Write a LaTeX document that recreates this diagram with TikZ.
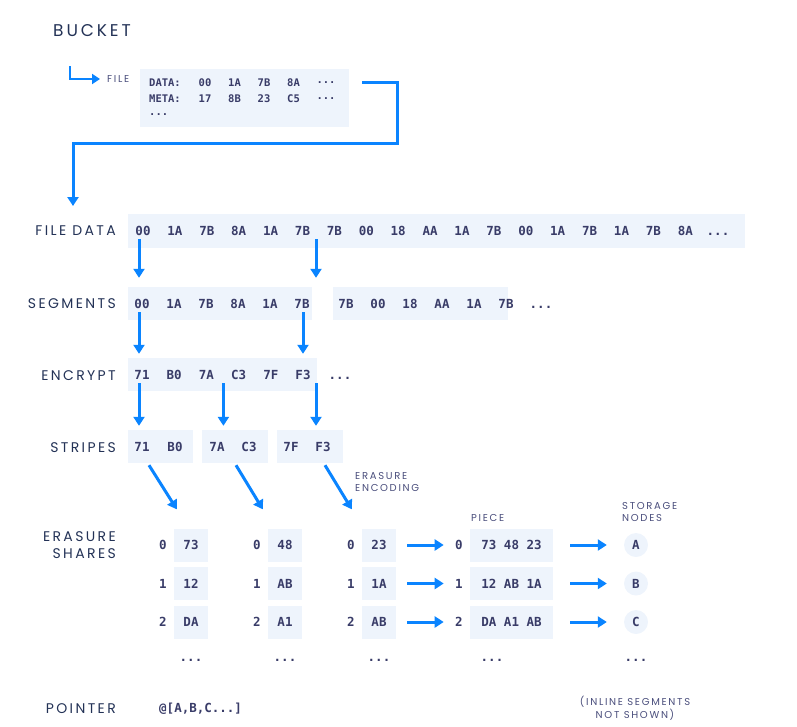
\documentclass[tikz,border=0pt]{standalone}
\usepackage{fontspec}
\setmainfont{Poppins}
\newfontfamily\capsfont[LetterSpace=17]{Poppins}
\newfontfamily\hexfont{DejaVu Sans Mono}
\usetikzlibrary{arrows.meta}
\definecolor{ink}{HTML}{233256}
\definecolor{softink}{HTML}{4A4E7C}
\definecolor{hexink}{HTML}{393C68}
\definecolor{boxfill}{HTML}{EEF4FC}
\definecolor{flowblue}{HTML}{0A84FF}
\tikzset{
  lbl/.style={font=\capsfont\fontsize{14}{16.5}\selectfont, text=ink, anchor=east, align=right, inner sep=0pt},
  tiny/.style={font=\capsfont\fontsize{10}{12.5}\selectfont, text=softink, align=left, inner sep=0pt},
  hex/.style={font=\hexfont\bfseries\fontsize{12.5}{14}\selectfont, text=hexink, text height=9pt, text depth=0pt},
  smallhex/.style={font=\hexfont\bfseries\fontsize{10.5}{12}\selectfont, text=hexink, inner sep=0pt},
  hexbox/.style={fill=boxfill, inner sep=0pt},
  flow/.style={draw=flowblue, line width=3pt, -{Triangle[length=9pt,width=11pt]}},
  flowsmall/.style={draw=flowblue, line width=2.5pt, -{Triangle[length=8pt,width=10pt]}},
}
\begin{document}
\begin{tikzpicture}[x=1pt,y=-1pt]
  \useasboundingbox (0,0) rectangle (797,726);

  % bucket and file
  \node[anchor=west, inner sep=0pt, font=\capsfont\fontsize{17}{20}\selectfont, text=ink] (bucket) at (53,31) {BUCKET};
  \coordinate (fstart) at (70,66);
  \node[tiny, anchor=west] (filelbl) at (107,79) {FILE};
  \draw[flowsmall] (fstart) |- ([xshift=-7pt]filelbl.west);
  \node[hexbox, minimum width=209, minimum height=58, anchor=north west] (filebox) at (140,69) {};
  \node[smallhex, anchor=west] (datalbl) at (149,83) {DATA:};
  \node[smallhex, anchor=west] (metalbl) at (149,99) {META:};
  \node[smallhex, anchor=west] (morelbl) at (149,115) {...};
  \foreach \t [count=\i] in {00,1A,7B,8A}
    \node[smallhex] (dat\i) at ({205+29.5*(\i-1)},83) {\t};
  \node[smallhex] (datmore) at (326,83) {...};
  \foreach \t [count=\i] in {17,8B,23,C5}
    \node[smallhex] (met\i) at ({205+29.5*(\i-1)},99) {\t};
  \node[smallhex] (metmore) at (326,99) {...};

  % file data
  \node[lbl] (fdlbl) at (116,231) {FILE DATA};
  \coordinate (fdin) at (73,206);
  \draw[flow] ([shift={(13pt,-13pt)}]filebox.north east) -- ++(35,0) -- ++(0,61) -| (fdin);
  \node[hexbox, minimum width=617, minimum height=34] (fdbox) at (436.5,231) {};
  \foreach \t [count=\i] in {00,1A,7B,8A,1A,7B,7B,00,18,AA,1A,7B,00,1A,7B,1A,7B,8A}
    \node[hex] (fd\i) at ({143+31.9*(\i-1)},231) {\t};
  \node[hex] (fdmore) at (718,231) {...};

  % segments
  \node[lbl] (sglbl) at (116,304) {SEGMENTS};
  \node[hexbox, minimum width=184, minimum height=33] (sgbox1) at (220,303.5) {};
  \node[hexbox, minimum width=175, minimum height=33] (sgbox2) at (420.5,303.5) {};
  \foreach \t [count=\i] in {00,1A,7B,8A,1A,7B}
    \node[hex] (sg\i) at ({142+32*(\i-1)},304) {\t};
  \foreach \t [count=\i] in {7B,00,18,AA,1A,7B}
    \node[hex] (sgb\i) at ({346+32*(\i-1)},304) {\t};
  \node[hex] (sgmore) at (541,304) {...};
  \draw[flow, shorten >=9pt] ([xshift=-4pt]fd1.south) -- ([xshift=-4pt]fd1.south |- sgbox1.north);
  \draw[flow, shorten >=9pt] ([xshift=13.5pt]fd6.south) -- ([xshift=13.5pt]fd6.south |- sgbox1.north);

  % encrypt
  \node[lbl] (enlbl) at (116,376) {ENCRYPT};
  \node[hexbox, minimum width=189, minimum height=33] (enbox) at (222.5,374.5) {};
  \foreach \t [count=\i] in {71,B0,7A,C3,7F,F3}
    \node[hex] (en\i) at ({142+32.2*(\i-1)},375) {\t};
  \node[hex] (enmore) at (340,375) {...};
  \draw[flow, shorten >=4pt] ([xshift=-3pt]sg1.south) -- ([xshift=-3pt]sg1.south |- enbox.north);
  \draw[flow, shorten >=4pt] ([xshift=1pt]sg6.south) -- ([xshift=1pt]sg6.south |- enbox.north);

  % stripes
  \node[lbl] (stlbl) at (116,448) {STRIPES};
  \node[hexbox, minimum width=65, minimum height=33] (sb1) at (160.5,446.5) {};
  \node[hexbox, minimum width=66, minimum height=33] (sb2) at (235,446.5) {};
  \node[hexbox, minimum width=66, minimum height=33] (sb3) at (309.5,446.5) {};
  \foreach \t/\x [count=\i] in {71/142,B0/175,7A/217,C3/249,7F/291,F3/323}
    \node[hex] (st\i) at (\x,447) {\t};
  \draw[flow, shorten >=4pt] ([xshift=-3pt]en1.south) -- ([xshift=-3pt]en1.south |- sb1.north);
  \draw[flow, shorten >=4pt] ([xshift=17pt]en3.south) -- ([xshift=17pt]en3.south |- sb2.north);
  \draw[flow, shorten >=4pt] ([xshift=13pt]en6.south) -- ([xshift=13pt]en6.south |- sb3.north);
  \node[tiny, anchor=west] (enclbl) at (355,482) {ERASURE\\ENCODING};

  % erasure shares
  \node[lbl] (shlbl) at (116,545) {ERASURE\\SHARES};
  \foreach \c/\x/\a/\b/\d in {1/191/73/12/DA, 2/285/48/AB/A1, 3/379/23/1A/AB} {
    \foreach \r/\y/\v in {0/545/\a, 1/583.5/\b, 2/622/\d} {
      \node[hexbox, minimum width=34, minimum height=33] (sh\c\r) at (\x,\y) {};
      \node[hex] (shv\c\r) at (\x,\y) {\v};
      \node[hex] (shi\c\r) at ({\x-28},\y) {\r};
    }
    \node[hex] (shmore\c) at (\x,657) {...};
  }
  \draw[flow] ([shift={(-11.5pt,-2pt)}]sb1.south) -- ([shift={(3pt,19pt)}]sh10.north west);
  \draw[flow] ([shift={(1pt,-2pt)}]sb2.south) -- ([shift={(-5pt,19pt)}]sh20.north west);
  \draw[flow] ([shift={(15.5pt,-2pt)}]sb3.south) -- ([shift={(-10pt,19pt)}]sh30.north west);

  % pieces and storage nodes
  \node[tiny, anchor=west] (pclbl) at (471,518) {PIECE};
  \node[tiny, anchor=west] (ndlbl) at (622,512) {STORAGE\\NODES};
  \foreach \r/\y/\v/\n in {0/545/73 48 23/A, 1/583.5/12 AB 1A/B, 2/622/DA A1 AB/C} {
    \node[hexbox, minimum width=83, minimum height=33] (pc\r) at (511.5,\y) {};
    \node[hex] (pcv\r) at (511.5,\y) {\v};
    \node[hex] (pd\r) at (459,\y) {\r};
    \node[circle, fill=boxfill, minimum size=24, inner sep=0pt, font=\hexfont\bfseries\fontsize{12.5}{14}\selectfont, text=hexink] (nd\r) at (636,\y) {\n};
    \draw[flow, shorten <=11pt, shorten >=8pt] (sh3\r.east) -- (pd\r.west);
    \draw[flow, shorten <=17pt, shorten >=17pt] (pc\r.east) -- (nd\r.west);
  }
  \node[hex] (pcmore) at (492,657) {...};
  \node[hex] (ndmore) at (636,657) {...};

  % pointer
  \node[lbl] (ptlbl) at (116,709) {POINTER};
  \node[hex, anchor=west, inner sep=0pt] (ptr) at (159,708) {@[A,B,C...]};
  \node[tiny, align=center] (inline) at (635,708) {(INLINE SEGMENTS\\NOT SHOWN)};
\end{tikzpicture}
\end{document}
